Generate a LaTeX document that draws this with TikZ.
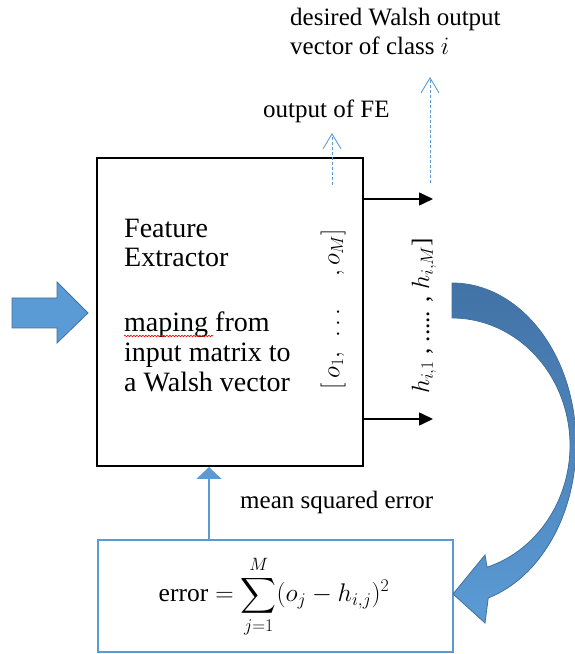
\RequirePackage{fix-cm}
\documentclass[tikz,border=0pt]{standalone}
\usepackage{amsmath}
\usepackage{fontspec}
\setmainfont{Liberation Serif}
\usetikzlibrary{arrows.meta,decorations.pathmorphing}
\definecolor{lblue}{HTML}{5B9BD5}
\definecolor{dblue}{HTML}{41719C}
\definecolor{tblue}{RGB}{66,114,166}
\begin{document}
\begin{tikzpicture}[x=1pt,y=1pt,
  lbl/.style={font=\fontsize{25}{30}\selectfont, inner sep=0pt, anchor=base west},
  boxtxt/.style={font=\fontsize{28}{30}\selectfont, inner sep=0pt, anchor=base west},
  rottxt/.style={font=\fontsize{25}{30}\selectfont, inner sep=0pt, rotate=90},
  outarrow/.style={line width=1.6pt, -{Triangle[length=14pt,width=13pt]}},
  dasharrow/.style={lblue, line width=0.9pt, dash pattern=on 3pt off 2pt,
    -{Straight Barb[length=15pt,width=18pt,line width=0.9pt]}},
  bluebox/.style={draw=lblue, line width=1.6pt, inner sep=0pt},
]
\useasboundingbox (0,0) rectangle (574,654);
% main box
\node[draw, line width=2pt, minimum width=266pt, minimum height=308pt, inner sep=0pt] (fe) at (230,342) {};
% error box
\node[bluebox, minimum width=355pt, minimum height=112pt] (err) at (275.5,58) {};
\node[font=\fontsize{25.5}{30}\selectfont, inner sep=0pt, anchor=base] (form) at (274,52)
  {error${}=\displaystyle\sum_{j=1}^{M}(o_j-h_{i,j})^2$};
% box text
\node[boxtxt] (t1) at (124,416) {Feature};
\node[boxtxt] (t2) at (124,387) {Extractor};
\node[boxtxt] (t3) at (124,322) {maping from};
\node[boxtxt] (t4) at (124,292) {input matrix to};
\node[boxtxt] (t5) at (124,262) {a Walsh vector};
\draw[red, line width=0.6pt, decorate, decoration={snake, amplitude=0.8pt, segment length=3pt}]
  ([yshift=-4pt]t3.base west) -- ++(89,0);
% rotated vectors
\node[rottxt] (ovec) at (333,345) {$[\,o_1,$\hspace{14pt}$\dots$\hspace{28pt}$,o_M]$};
\node[rottxt] (hvec) at (424,338) {$h_{i,1}$ , ..... , $h_{i,M}$]};
% output arrows
\coordinate (a1) at (433,455);
\coordinate (a2) at (433,235);
\draw[outarrow] (fe.east |- a1) -- (a1);
\draw[outarrow] (fe.east |- a2) -- (a2);
% dashed arrows
\coordinate (d1a) at (332,469);
\coordinate (d1b) at (332,521);
\coordinate (d2a) at (430,471);
\coordinate (d2b) at (430,577);
\draw[dasharrow] (d1a) -- (d1b);
\draw[dasharrow] (d2a) -- (d2b);
% labels
\node[lbl] (des1) at (290,628) {desired Walsh output};
\node[lbl] (des2) at (290,599) {vector of class $i$};
\node[lbl] (ofe) at (263,536) {output of FE};
\node[lbl] (mse) at (240,145) {mean squared error};
% feedback arrow
\coordinate (ex) at (209,0);
\draw[lblue, line width=2pt, -{Triangle[length=12pt,width=25pt]}] (err.north -| ex) -- (fe.south -| ex);
% input arrow
\draw[fill=lblue, draw=dblue, line width=0.8pt] (12,356) -- (57,356) -- (57,372) -- (88,341)
  -- (57,311) -- (57,326) -- (12,326) -- cycle;
% curved arrow
\shade[top color=tblue, bottom color=lblue, draw=dblue, line width=0.8pt]
  (452,371) arc[start angle=90, end angle=-73, x radius=124, y radius=161]
  -- (485,31) -- (453,60) -- (485,99) -- (487.1,86.8)
  arc[start angle=-72.7, end angle=90, x radius=118, y radius=127.5] -- cycle;
\end{tikzpicture}
\end{document}
